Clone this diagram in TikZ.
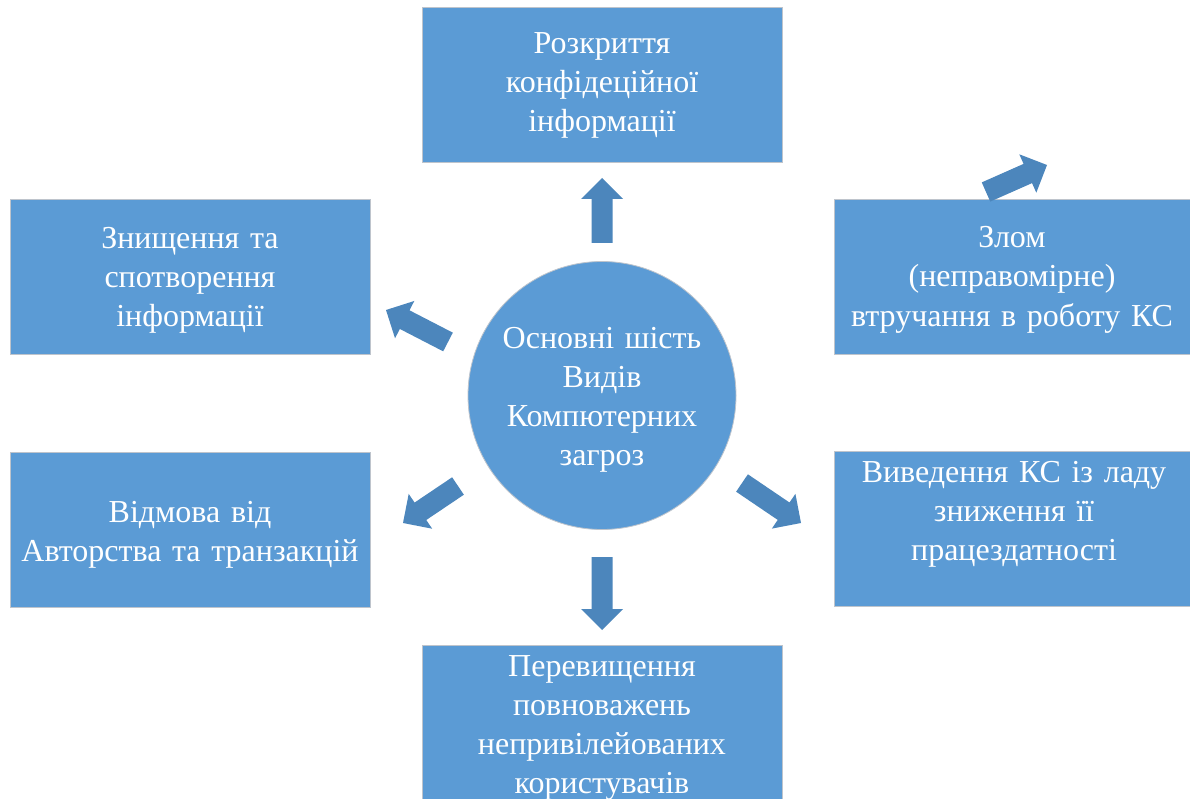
\documentclass[tikz,border=0pt]{standalone}
\usepackage{fontspec}
\setmainfont{Liberation Serif}
\usetikzlibrary{calc}
\definecolor{boxblue}{RGB}{91,155,213}
\definecolor{arrowblue}{RGB}{76,134,188}
\definecolor{edgegrey}{RGB}{190,196,204}
\newcommand{\bArrow}[2]{%
  \coordinate (bH) at ($(#2)!21pt!(#1)$);
  \fill[arr] ($(#1)!10.5pt!90:(#2)$) -- ($(bH)!10.5pt!-90:(#1)$) -- ($(bH)!21pt!-90:(#1)$) -- (#2)
    -- ($(bH)!21pt!90:(#1)$) -- ($(bH)!10.5pt!90:(#1)$) -- ($(#1)!10.5pt!-90:(#2)$) -- cycle;}
\begin{document}
\begin{tikzpicture}[x=1pt,y=-1pt,
  box/.style={rectangle, draw=edgegrey, line width=0.8pt, fill=boxblue, minimum width=360pt, minimum height=155pt, inner sep=0pt},
  hub/.style={circle, draw=edgegrey, line width=0.8pt, fill=boxblue, minimum size=268pt, inner sep=0pt},
  lbl/.style={text=white, font=\fontsize{32}{39}\selectfont, align=center, text width=360pt, anchor=base, inner sep=0pt},
  arr/.style={fill=arrowblue}]
\useasboundingbox (0,0) rectangle (1190,799);
\clip (0,0) rectangle (1190,799);
\fill[white] (0,0) rectangle (1190,799);
% boxes
\node[box] (top) at (602,84.5) {};
\node[box] (dest) at (190,277) {};
\node[box] (hack) at (1014,277) {};
\node[box] (deny) at (190,529.5) {};
\node[box] (fail) at (1014,529) {};
\node[box] (priv) at (602,722.5) {};
\node[hub] (c) at (602,395.5) {};
% labels
\node[lbl] (topT) at (602,54) {Розкриття\\конфідеційної\\інформації};
\node[lbl] (destT) at (190,249) {Знищення та\\спотворення\\інформації};
\node[lbl] (hackT) at (1012,248) {Злом\\(неправомірне)\\втручання в роботу КС};
\node[lbl] (denyT) at (190,522) {Відмова від\\Авторства та транзакцій};
\node[lbl] (failT) at (1014,482) {Виведення КС із ладу\\зниження її\\працездатності};
\node[lbl] (privT) at (602,676) {Перевищення\\повноважень\\непривілейованих\\користувачів};
\node[lbl, text width=260pt] (cT) at (602,348) {Основні шість\\Видів\\Компютерних\\загроз};
% arrows
\coordinate (uT) at (602,243); \coordinate (uP) at (602,178);
\coordinate (dT) at (602,557); \coordinate (dP) at (602,630);
\coordinate (luT) at (448,342); \coordinate (luP) at (386,310);
\coordinate (ldT) at (458,486); \coordinate (ldP) at (403,523);
\coordinate (rdT) at (742,483); \coordinate (rdP) at (801,523);
\coordinate (ruT) at (986,192); \coordinate (ruP) at (1047,165);
\bArrow{uT}{uP}
\bArrow{dT}{dP}
\bArrow{luT}{luP}
\bArrow{ldT}{ldP}
\bArrow{rdT}{rdP}
\bArrow{ruT}{ruP}
\end{tikzpicture}
\end{document}
